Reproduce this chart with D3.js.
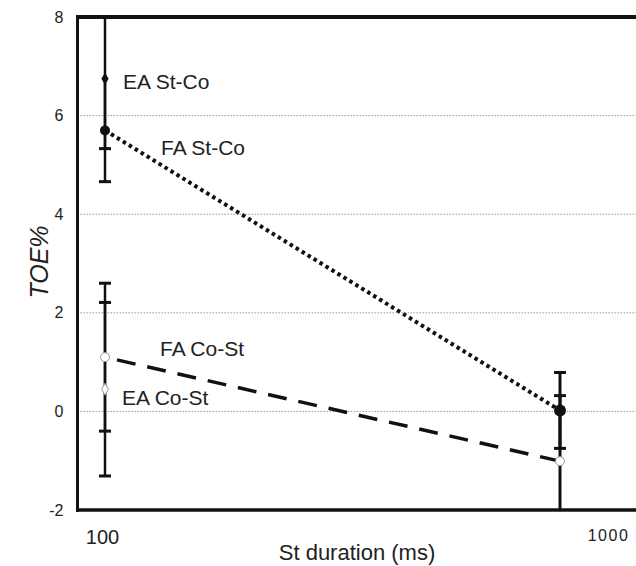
<!DOCTYPE html>
<html><head><meta charset="utf-8">
<script src="https://cdn.jsdelivr.net/npm/d3@7"></script>
<style>body{margin:0;background:#fff}svg{display:block}text{font-family:"Liberation Sans",Arial,sans-serif}</style>
</head><body>
<script>
const durations = [100, 1000];
const yTicks = [-2, 0, 2, 4, 6, 8];
const gridTicks = [0, 2, 4, 6];
// series: means and error half-widths
const faStCo = [5.7, 0.02];
const faStCoErr = [1.04, 0.77];
const faCoSt = [1.1, -1.01];
const faCoStErr = [1.5, 1.33];
const eaStCo = [6.75];
const eaStCoErr = [1.42];
const eaCoSt = [0.45];
const eaCoStErr = [1.76];
const labels = ["EA St-Co", "FA St-Co", "FA Co-St", "EA Co-St"];

const W = 636, H = 566;
const svg = d3.select("body").append("svg").attr("width", W).attr("height", H);
const x = d3.scaleLog().domain([100, 1000]).range([105, 560]);
const y = d3.scaleLinear().domain([-2, 8]).range([510, 17]);
const left = 77.5, right = 636;
const fmt = d => String(d);

// grid
svg.append("g").selectAll("line").data(gridTicks).join("line")
  .attr("x1", left).attr("x2", right).attr("y1", d => y(d)).attr("y2", d => y(d))
  .attr("stroke", "#999").attr("stroke-width", 1).attr("stroke-dasharray", "1.5,1.5");

// y axis
const ya = svg.append("g").attr("transform", `translate(${left},0)`)
  .call(d3.axisLeft(y).tickValues(yTicks).tickSize(0).tickPadding(14).tickFormat(fmt));
ya.select(".domain").remove();
ya.selectAll("text").attr("font-size", 16).attr("fill", "#222").style("font-family", "Liberation Sans, Arial, sans-serif");

// x tick labels
const xa = svg.append("g").attr("transform", `translate(0,510)`)
  .call(d3.axisBottom(x).tickValues(durations).tickSize(0).tickPadding(20).tickFormat(fmt));
xa.select(".domain").remove();
xa.selectAll("text").attr("fill", "#222").style("font-family", "Liberation Sans, Arial, sans-serif")
  .attr("font-size", d => d === 100 ? 20 : 16)
  .attr("letter-spacing", d => d === 100 ? 0 : 1.5)
  .attr("dx", d => d === 100 ? -3 : 48);

// error bars
const clipY = v => Math.max(17, Math.min(510, v));
function errBar(xv, m, e, lw, skipUpperCap) {
  const xp = x(xv);
  svg.append("line").attr("x1", xp).attr("x2", xp)
    .attr("y1", clipY(y(m + e))).attr("y2", clipY(y(m - e)))
    .attr("stroke", "#111").attr("stroke-width", lw);
  [m + e, m - e].forEach((v, k) => {
    if (k === 0 && skipUpperCap) return;
    if (y(v) > 17 && y(v) < 510)
      svg.append("line").attr("x1", xp - 6).attr("x2", xp + 6).attr("y1", y(v)).attr("y2", y(v))
        .attr("stroke", "#111").attr("stroke-width", 3);
  });
}
errBar(100, eaStCo[0], eaStCoErr[0], 2.5);
errBar(100, faStCo[0], faStCoErr[0], 2.5, true);
errBar(100, faCoSt[0], faCoStErr[0], 2.5);
errBar(100, eaCoSt[0], eaCoStErr[0], 2.5);
errBar(1000, faStCo[1], faStCoErr[1], 3);
errBar(1000, faCoSt[1], faCoStErr[1], 3);

// lines
const line = d3.line().x((d, i) => x(durations[i])).y(d => y(d));
svg.append("path").attr("d", line(faStCo)).attr("fill", "none").attr("stroke", "#111")
  .attr("stroke-width", 4).attr("stroke-dasharray", "3.5,3.5");
const dashPts = faCoSt.map((d, i) => [x(durations[i]), y(d)]);
const t0 = 12 / (dashPts[1][0] - dashPts[0][0]);
svg.append("path")
  .attr("d", d3.line()([[dashPts[0][0] + (dashPts[1][0] - dashPts[0][0]) * t0, dashPts[0][1] + (dashPts[1][1] - dashPts[0][1]) * t0], dashPts[1]]))
  .attr("fill", "none").attr("stroke", "#111").attr("stroke-width", 3.5).attr("stroke-dasharray", "19,12");

// markers
svg.selectAll(".fsc").data(faStCo).join("circle")
  .attr("cx", (d, i) => x(durations[i])).attr("cy", d => y(d)).attr("r", (d, i) => i ? 6 : 5).attr("fill", "#111");
svg.selectAll(".fcs").data(faCoSt).join("circle")
  .attr("cx", (d, i) => x(durations[i])).attr("cy", d => y(d)).attr("r", 4.5).attr("fill", "#fff").attr("stroke", "#999").attr("stroke-width", 1);
svg.append("path").attr("d", d3.symbol().type(d3.symbolDiamond).size(45)())
  .attr("transform", `translate(${x(100)},${y(eaStCo[0])})`).attr("fill", "#111");
svg.append("path").attr("d", d3.symbol().type(d3.symbolDiamond).size(40)())
  .attr("transform", `translate(${x(100)},${y(eaCoSt[0])})`).attr("fill", "#fff").attr("stroke", "#999").attr("stroke-width", 1);

// series labels
const lab = [
  {t: labels[0], x: 123, y: 89},
  {t: labels[1], x: 161, y: 155},
  {t: labels[2], x: 160, y: 356},
  {t: labels[3], x: 122, y: 405}
];
svg.selectAll(".lab").data(lab).join("text")
  .attr("x", d => d.x).attr("y", d => d.y).text(d => d.t)
  .attr("font-size", 21).attr("fill", "#222");

// frame
svg.append("line").attr("x1", left).attr("x2", left).attr("y1", 15).attr("y2", 512).attr("stroke", "#111").attr("stroke-width", 3);
svg.append("line").attr("x1", 76).attr("x2", right).attr("y1", 17).attr("y2", 17).attr("stroke", "#111").attr("stroke-width", 4);
svg.append("line").attr("x1", 76).attr("x2", right).attr("y1", 510).attr("y2", 510).attr("stroke", "#111").attr("stroke-width", 3.5);

// axis titles
svg.append("text").attr("transform", "translate(48,262) rotate(-90)").attr("text-anchor", "middle")
  .attr("font-size", 25).attr("font-style", "italic").attr("fill", "#222").text("TOE%");
svg.append("text").attr("x", 357).attr("y", 560).attr("text-anchor", "middle")
  .attr("font-size", 22).attr("fill", "#222").text("St duration (ms)");
</script>
</body></html>
